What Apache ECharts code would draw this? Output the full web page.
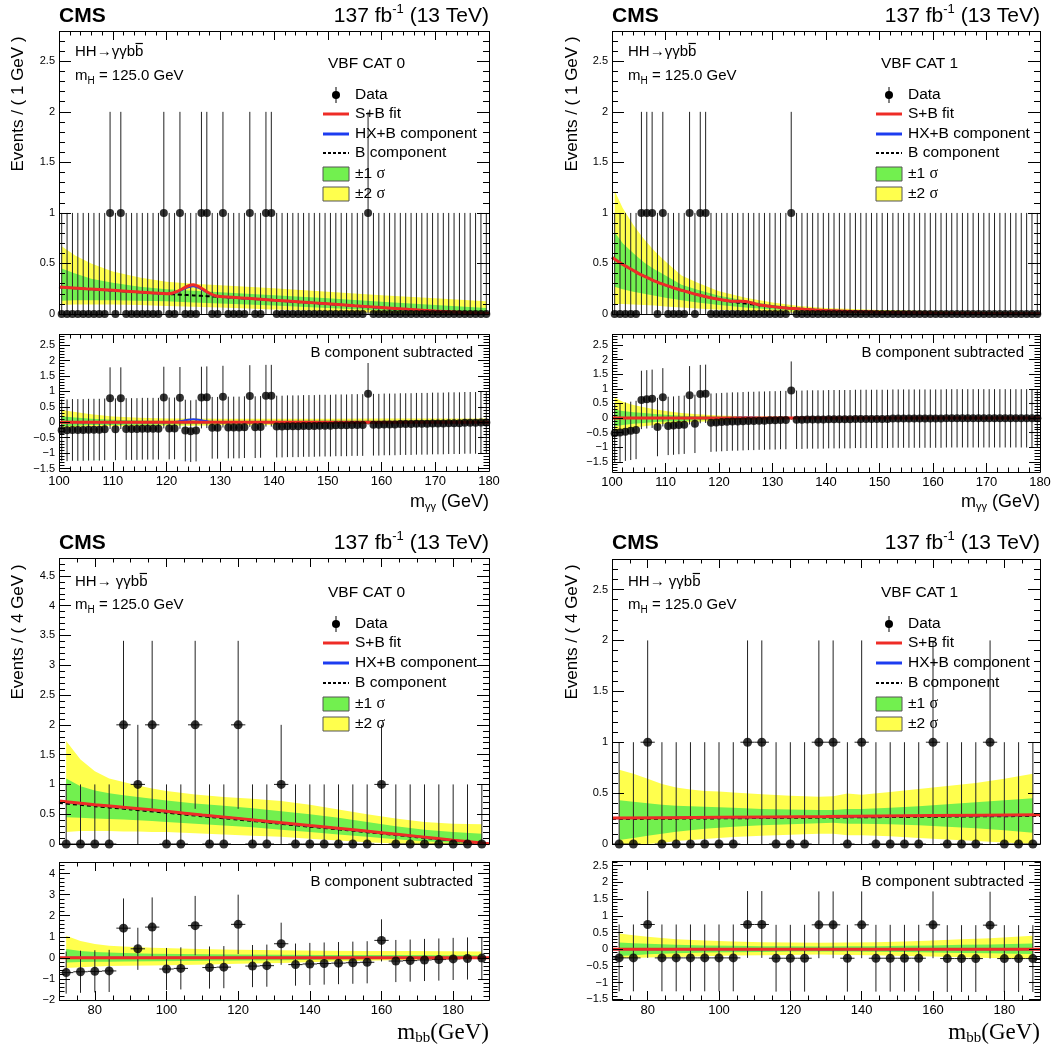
<!DOCTYPE html>
<html>
<head>
<meta charset="utf-8">
<script src="https://cdn.jsdelivr.net/npm/echarts@6.0.0/dist/echarts.min.js"></script>
<style>
html,body{margin:0;padding:0;background:#fff;}
#chart{width:1063px;height:1048px;}
</style>
</head>
<body>
<div id="chart"></div>
<script>
// ====================== DATA ======================
// binning: [low edge, bin width]
const ggBinning = [100, 1];
const bbBinning = [70, 4];
const ggRange = [100, 180];
const bbRange = [70, 190];
// symmetric error drawn for a bin with 0, 1, 2 events
const errorByCount = [1, 1, 1.41];

// tick labels
const ggTickLabels = [100, 110, 120, 130, 140, 150, 160, 170, 180];
const bbTickLabels = [80, 100, 120, 140, 160, 180];
const mainTicks28 = [0, 0.5, 1, 1.5, 2, 2.5];
const mainTicks48 = [0, 0.5, 1, 1.5, 2, 2.5, 3, 3.5, 4, 4.5];
const subTicksHalf = [-1.5, -1, -0.5, 0, 0.5, 1, 1.5, 2, 2.5];
const subTicksUnit = [-2, -1, 0, 1, 2, 3, 4];

// texts
const legendLabels = ['Data', 'S+B fit', 'HX+B component', 'B component', '\u00b11 ', '\u00b12 '];
const categoryLabels = ['VBF CAT 0', 'VBF CAT 1', 'VBF CAT 0', 'VBF CAT 1'];
const yTitles = ['Events / ( 1 GeV )', 'Events / ( 1 GeV )', 'Events / ( 4 GeV )', 'Events / ( 4 GeV )'];

// ---------- A: m_gg, VBF CAT 0 ----------
const ggCat0Counts = [
  0,0,0,0,0,0,0,0,0,1, 0,1,0,0,0,0,0,0,0,1, 0,0,1,0,0,0,1,1,0,0, 1,0,0,0,0,1,0,0,1,1,
  0,0,0,0,0,0,0,0,0,0, 0,0,0,0,0,0,0,1,0,0, 0,0,0,0,0,0,0,0,0,0, 0,0,0,0,0,0,0,0,0,0];
const ggCat0Sub = [
  -0.26,-0.26,-0.25,-0.25,-0.25,-0.24,-0.24,-0.24,-0.23,0.78,
  -0.23,0.78,-0.22,-0.22,-0.22,-0.21,-0.21,-0.21,-0.21,0.80,
  -0.20,-0.20,0.79,-0.27,-0.29,-0.27,0.80,0.81,-0.18,-0.18,
  0.83,-0.17,-0.17,-0.17,-0.16,0.85,-0.16,-0.15,0.86,0.86,
  -0.14,-0.14,-0.13,-0.13,-0.13,-0.12,-0.12,-0.12,-0.11,-0.11,
  -0.11,-0.10,-0.10,-0.10,-0.09,-0.09,-0.09,0.92,-0.08,-0.08,
  -0.07,-0.07,-0.07,-0.06,-0.06,-0.06,-0.05,-0.05,-0.05,-0.04,
  -0.04,-0.04,-0.03,-0.03,-0.03,-0.02,-0.02,-0.02,-0.01,-0.01];
const ggCat0FitX = [100,105,110,115,120,121,122,123,124,125,126,127,128,129,130,135,140,145,150,155,160,165,170,175,180];
const ggCat0B  = [0.265,0.248,0.232,0.215,0.199,0.196,0.193,0.190,0.187,0.184,0.181,0.178,0.175,0.172,0.169,0.153,0.135,0.117,0.099,0.080,0.062,0.044,0.027,0.012,0.003];
const ggCat0SB = [0.267,0.250,0.234,0.217,0.201,0.206,0.223,0.250,0.277,0.289,0.271,0.238,0.205,0.182,0.172,0.155,0.137,0.119,0.101,0.082,0.064,0.046,0.029,0.014,0.005];
const ggCat0HX = [0.266,0.249,0.233,0.216,0.200,0.204,0.218,0.242,0.265,0.274,0.258,0.229,0.200,0.180,0.171,0.154,0.136,0.118,0.100,0.081,0.063,0.045,0.028,0.013,0.004];
const ggCat0BandX = [100.5,103,106,110,115,120,125,130,135,140,150,160,170,179.5];
const ggCat0Up2 = [0.67,0.58,0.50,0.42,0.36,0.32,0.30,0.285,0.27,0.255,0.22,0.185,0.155,0.125];
const ggCat0Up1 = [0.45,0.40,0.35,0.31,0.27,0.245,0.23,0.215,0.20,0.185,0.155,0.12,0.09,0.06];
const ggCat0Dn1 = [0.13,0.135,0.135,0.135,0.13,0.125,0.115,0.105,0.095,0.085,0.06,0.035,0.012,0.0];
const ggCat0Dn2 = [0.09,0.095,0.095,0.095,0.09,0.08,0.072,0.065,0.055,0.045,0.028,0.01,0.0,0.0];
const ggCat0SubUp2 = [0.40,0.33,0.26,0.19,0.145,0.12,0.12,0.115,0.115,0.115,0.115,0.12,0.12,0.12];
const ggCat0SubUp1 = [0.185,0.15,0.11,0.08,0.06,0.05,0.05,0.045,0.045,0.05,0.055,0.058,0.06,0.058];
const ggCat0SubDn1 = [-0.135,-0.11,-0.09,-0.09,-0.08,-0.07,-0.065,-0.06,-0.055,-0.05,-0.04,-0.03,-0.02,-0.01];
const ggCat0SubDn2 = [-0.175,-0.15,-0.13,-0.13,-0.12,-0.11,-0.11,-0.10,-0.095,-0.09,-0.07,-0.05,-0.03,-0.01];
const ggCat0SubFitX = [100,120,121,122,123,124,125,126,127,128,129,130,180];
const ggCat0SubSB = [0,0,0,0,0,0,0,0,0,0,0,0,0];
const ggCat0SubHX = [0,0,0.005,0.02,0.05,0.08,0.095,0.08,0.05,0.02,0.005,0,0];

// ---------- B: m_gg, VBF CAT 1 ----------
const ggCat1Counts = [
  0,0,0,0,0,1,1,1,0,1, 0,0,0,0,1,0,1,1,0,0, 0,0,0,0,0,0,0,0,0,0, 0,0,0,1,0,0,0,0,0,0,
  0,0,0,0,0,0,0,0,0,0, 0,0,0,0,0,0,0,0,0,0, 0,0,0,0,0,0,0,0,0,0, 0,0,0,0,0,0,0,0,0,0];
const ggCat1Sub = [
  -0.52,-0.50,-0.47,-0.44,-0.41,0.62,0.64,0.66,-0.31,0.71,
  -0.27,-0.26,-0.24,-0.23,0.78,-0.20,0.82,0.83,-0.16,-0.15,
  -0.14,-0.13,-0.12,-0.12,-0.11,-0.10,-0.10,-0.09,-0.09,-0.08,
  -0.08,-0.07,-0.07,0.94,-0.06,-0.06,-0.05,-0.05,-0.05,-0.05,
  -0.04,-0.04,-0.04,-0.04,-0.04,-0.03,-0.03,-0.03,-0.03,-0.03,
  -0.03,-0.03,-0.02,-0.02,-0.02,-0.02,-0.02,-0.02,-0.02,-0.02,
  -0.02,-0.02,-0.01,-0.01,-0.01,-0.01,-0.01,-0.01,-0.01,-0.01,
  -0.01,-0.01,-0.01,-0.01,-0.01,-0.01,-0.01,-0.01,-0.01,-0.01];
const ggCat1FitX = [100,101,102,103,104,105,106,107,108,110,112,114,116,118,120,122,123,124,125,126,127,128,130,133,136,140,145,150,160,170,180];
const ggCat1B  = [0.56,0.525,0.49,0.46,0.43,0.40,0.375,0.35,0.325,0.285,0.25,0.22,0.19,0.165,0.145,0.126,0.118,0.11,0.103,0.096,0.09,0.084,0.073,0.058,0.047,0.035,0.025,0.018,0.01,0.005,0.002];
const ggCat1SB = [0.56,0.525,0.49,0.46,0.43,0.40,0.375,0.35,0.325,0.285,0.25,0.22,0.19,0.165,0.145,0.128,0.126,0.126,0.123,0.112,0.098,0.086,0.073,0.058,0.047,0.035,0.025,0.018,0.01,0.005,0.002];
const ggCat1HX = [0.56,0.525,0.49,0.46,0.43,0.40,0.375,0.35,0.325,0.285,0.25,0.22,0.19,0.165,0.145,0.127,0.124,0.122,0.118,0.108,0.096,0.085,0.073,0.058,0.047,0.035,0.025,0.018,0.01,0.005,0.002];
const ggCat1BandX = [100.5,102,104,106,108,110,113,116,120,125,130,135,140,150,165,179.5];
const ggCat1Up2 = [1.22,1.05,0.88,0.74,0.62,0.52,0.38,0.31,0.225,0.16,0.115,0.08,0.06,0.04,0.025,0.02];
const ggCat1Up1 = [0.81,0.70,0.60,0.51,0.44,0.38,0.29,0.24,0.18,0.13,0.09,0.065,0.048,0.03,0.018,0.012];
const ggCat1Dn1 = [0.27,0.245,0.22,0.20,0.18,0.16,0.135,0.115,0.09,0.065,0.045,0.032,0.022,0.012,0.005,0.002];
const ggCat1Dn2 = [0.10,0.10,0.095,0.09,0.085,0.075,0.065,0.055,0.042,0.03,0.02,0.012,0.008,0.004,0.001,0.0];
const ggCat1SubUp2 = [0.70,0.56,0.45,0.37,0.30,0.24,0.17,0.13,0.09,0.06,0.045,0.035,0.025,0.02,0.015,0.01];
const ggCat1SubUp1 = [0.28,0.24,0.20,0.17,0.14,0.11,0.08,0.065,0.05,0.035,0.025,0.02,0.015,0.01,0.008,0.006];
const ggCat1SubDn1 = [-0.28,-0.24,-0.20,-0.17,-0.14,-0.12,-0.10,-0.08,-0.06,-0.04,-0.03,-0.02,-0.015,-0.01,-0.008,-0.006];
const ggCat1SubDn2 = [-0.45,-0.39,-0.33,-0.28,-0.24,-0.20,-0.16,-0.13,-0.10,-0.07,-0.05,-0.035,-0.025,-0.015,-0.01,-0.008];
const ggCat1SubFitX = [100,121,122,123,124,125,126,127,128,129,180];
const ggCat1SubSB = [0,0,0,0,0,0,0,0,0,0,0];
const ggCat1SubHX = [0,0,0.003,0.01,0.018,0.022,0.018,0.01,0.003,0,0];

// ---------- C: m_bb, VBF CAT 0 ----------
const bbCat0Counts = [0,0,0,0,2,1,2,0,0,2, 0,0,2,0,0,1,0,0,0,0, 0,0,1,0,0,0,0,0,0,0];
const bbCat0Sub = [-0.70,-0.66,-0.64,-0.62,1.41,0.43,1.46,-0.53,-0.50,1.53,
  -0.46,-0.44,1.59,-0.39,-0.37,0.67,-0.32,-0.29,-0.27,-0.25,
  -0.23,-0.21,0.83,-0.15,-0.13,-0.10,-0.08,-0.05,-0.03,-0.01];
const bbCat0FitX = [70,80,90,100,110,120,130,140,150,160,170,180,190];
const bbCat0B  = [0.69,0.635,0.58,0.525,0.465,0.41,0.35,0.29,0.235,0.175,0.115,0.055,0.0];
const bbCat0SB = [0.72,0.66,0.605,0.55,0.485,0.43,0.37,0.31,0.252,0.19,0.128,0.065,0.005];
const bbCat0HX = [0.717,0.657,0.602,0.547,0.482,0.427,0.367,0.307,0.249,0.187,0.125,0.063,0.004];
const bbCat0BandX = [72,76,80,84,88,92,96,100,108,116,124,132,140,148,156,164,172,180,188];
const bbCat0Up2 = [1.73,1.42,1.22,1.10,1.04,0.98,0.93,0.89,0.83,0.79,0.76,0.72,0.66,0.58,0.50,0.43,0.37,0.34,0.33];
const bbCat0Up1 = [1.10,0.97,0.90,0.85,0.82,0.79,0.76,0.73,0.68,0.64,0.60,0.55,0.50,0.44,0.37,0.30,0.24,0.20,0.17];
const bbCat0Dn1 = [0.45,0.44,0.43,0.42,0.41,0.40,0.385,0.37,0.34,0.31,0.28,0.24,0.20,0.16,0.12,0.08,0.045,0.02,0.005];
const bbCat0Dn2 = [0.20,0.22,0.22,0.22,0.21,0.21,0.20,0.20,0.18,0.16,0.14,0.12,0.09,0.06,0.03,0.01,0.0,0.0,0.0];
const bbCat0SubBandX = [72,76,80,84,88,96,104,112,120,132,144,156,168,180,188];
const bbCat0SubUp2 = [1.05,0.80,0.66,0.58,0.54,0.48,0.44,0.41,0.38,0.36,0.34,0.33,0.32,0.31,0.30];
const bbCat0SubUp1 = [0.42,0.33,0.28,0.25,0.23,0.20,0.18,0.17,0.16,0.15,0.14,0.13,0.13,0.12,0.12];
const bbCat0SubDn1 = [-0.22,-0.20,-0.19,-0.18,-0.17,-0.16,-0.15,-0.14,-0.13,-0.11,-0.09,-0.07,-0.05,-0.03,-0.02];
const bbCat0SubDn2 = [-0.48,-0.44,-0.41,-0.39,-0.38,-0.36,-0.34,-0.31,-0.28,-0.24,-0.19,-0.14,-0.09,-0.05,-0.03];
const bbCat0SubFitX = [70,190];
const bbCat0SubSB = [0,0];
const bbCat0SubHX = [0,0];

// ---------- D: m_bb, VBF CAT 1 ----------
const bbCat1Counts = [0,0,1,0,0,0,0,0,0,1, 1,0,0,0,1,1,0,1,0,0, 0,0,1,0,0,0,1,0,0,0];
const bbCat1Sub = [-0.26,-0.26,0.74,-0.26,-0.26,-0.26,-0.26,-0.26,-0.26,0.74,
  0.74,-0.27,-0.27,-0.27,0.73,0.73,-0.27,0.73,-0.27,-0.27,
  -0.27,-0.27,0.73,-0.28,-0.28,-0.28,0.72,-0.28,-0.28,-0.28];
const bbCat1FitX = [70,100,130,160,190];
const bbCat1B  = [0.245,0.252,0.26,0.268,0.276];
const bbCat1SB = [0.255,0.262,0.27,0.279,0.288];
const bbCat1HX = [0.253,0.26,0.268,0.277,0.286];
const bbCat1BandX = [72,76,80,84,88,92,96,100,104,112,120,128,132,136,140,148,156,164,172,180,188];
const bbCat1Up2 = [0.73,0.69,0.64,0.59,0.555,0.535,0.52,0.515,0.505,0.49,0.475,0.465,0.47,0.495,0.485,0.51,0.54,0.57,0.60,0.64,0.69];
const bbCat1Up1 = [0.43,0.415,0.40,0.385,0.375,0.37,0.365,0.36,0.355,0.345,0.34,0.335,0.335,0.345,0.345,0.355,0.37,0.39,0.41,0.43,0.45];
const bbCat1Dn1 = [0.04,0.06,0.08,0.10,0.12,0.135,0.15,0.16,0.17,0.185,0.195,0.205,0.21,0.20,0.20,0.195,0.185,0.17,0.155,0.135,0.11];
const bbCat1Dn2 = [0.0,0.0,0.0,0.01,0.03,0.04,0.05,0.06,0.07,0.08,0.09,0.10,0.10,0.085,0.085,0.075,0.06,0.045,0.03,0.015,0.0];
const bbCat1SubBandX = [72,76,80,88,96,104,112,120,128,136,144,152,160,168,176,188];
const bbCat1SubUp2 = [0.47,0.42,0.37,0.30,0.26,0.23,0.21,0.20,0.19,0.20,0.21,0.23,0.26,0.30,0.33,0.40];
const bbCat1SubUp1 = [0.20,0.18,0.16,0.13,0.11,0.10,0.09,0.085,0.08,0.085,0.09,0.10,0.11,0.13,0.14,0.17];
const bbCat1SubDn1 = [-0.20,-0.18,-0.15,-0.12,-0.10,-0.09,-0.08,-0.07,-0.065,-0.07,-0.075,-0.085,-0.10,-0.11,-0.12,-0.14];
const bbCat1SubDn2 = [-0.26,-0.26,-0.25,-0.23,-0.21,-0.19,-0.18,-0.17,-0.16,-0.17,-0.18,-0.20,-0.22,-0.24,-0.26,-0.28];
const bbCat1SubFitX = [70,190];
const bbCat1SubSB = [0,0];
const bbCat1SubHX = [0,0];

// ====================== DRAWING ======================
const SANS = '"Liberation Sans", Arial, Helvetica, sans-serif';
const SERIF = '"Liberation Serif", "Times New Roman", serif';
const C_YEL = '#ffff4d', C_GRN = '#72f04f', C_RED = '#ee2c26', C_BLU = '#1d3cf0';

const mctx = document.createElement('canvas').getContext('2d');
function measure(t, size, fam, wt) { mctx.font = (wt || 'normal') + ' ' + size + 'px ' + fam; return mctx.measureText(t).width; }

const grids = [], xAxes = [], yAxes = [], series = [], gfx = [];

function fmt(v) { const a = Math.abs(v); const s = String(+a.toFixed(2)); return (v < -1e-9 ? '\u2212' : '') + s; }
function stepList(lo, hi, step) { const out = []; for (let k = Math.ceil(lo / step - 1e-6); k * step <= hi + 1e-6; k++) out.push(+(k * step).toFixed(6)); return out; }

function mkAxis(list, gi, range, pos, ticks, len, label) {
  list.push({
    type: 'value', gridIndex: gi, min: range[0], max: range[1], position: pos, offset: 0,
    axisLine: { show: false, onZero: false }, splitLine: { show: false }, splitArea: { show: false },
    minorTick: { show: false }, minorSplitLine: { show: false },
    axisTick: ticks ? { show: true, inside: true, length: len, customValues: ticks, lineStyle: { color: '#000', width: 1 } } : { show: false },
    axisLabel: label ? { show: true, customValues: label.values, formatter: fmt, color: '#000', fontFamily: SANS, fontSize: label.size, margin: label.margin } : { show: false },
    axisPointer: { show: false }, silent: true, z: 20
  });
  return list.length - 1;
}

function addFrame(rect, xr, yr, o) {
  const gi = grids.length;
  grids.push({ left: rect[0], top: rect[1], width: rect[2], height: rect[3], show: false, containLabel: false, outerBoundsMode: 'none' });
  const xi = mkAxis(xAxes, gi, xr, 'bottom', o.bottomTicks ? o.xMajor : null, o.xLen, o.xLabel ? { values: o.xMajor, size: 13, margin: 4 } : null);
  mkAxis(xAxes, gi, xr, 'top', o.xMajor, o.xLen, null);
  mkAxis(xAxes, gi, xr, 'top', stepList(xr[0], xr[1], o.xMinor), o.xLen / 2, null);
  if (o.bottomTicks) mkAxis(xAxes, gi, xr, 'bottom', stepList(xr[0], xr[1], o.xMinor), o.xLen / 2, null);
  const yi = mkAxis(yAxes, gi, yr, 'left', o.yMajor, o.yLen, { values: o.yMajor, size: 11, margin: 4 });
  mkAxis(yAxes, gi, yr, 'right', o.yMajor, o.yLen, null);
  const ym = stepList(yr[0], yr[1], o.yMinor);
  mkAxis(yAxes, gi, yr, 'left', ym, o.yLen / 2, null);
  mkAxis(yAxes, gi, yr, 'right', ym, o.yLen / 2, null);
  gfx.push({ type: 'rect', shape: { x: rect[0] + 0.5, y: rect[1] + 0.5, width: rect[2], height: rect[3] }, style: { fill: 'none', stroke: '#000', lineWidth: 1 }, z: 60, silent: true });
  return { xi: xi, yi: yi };
}

function bandSeries(ax, xs, lo, hi, color, z) {
  series.push({
    type: 'custom', xAxisIndex: ax.xi, yAxisIndex: ax.yi, z: z, silent: true, animation: false,
    data: [[xs[0], lo[0]]], encode: { x: 0, y: 1 },
    renderItem: function (params, api) {
      if (params.dataIndex !== 0) return null;
      const pts = [];
      for (let i = 0; i < xs.length; i++) pts.push(api.coord([xs[i], hi[i]]));
      for (let i = xs.length - 1; i >= 0; i--) pts.push(api.coord([xs[i], lo[i]]));
      return { type: 'polygon', shape: { points: pts }, style: { fill: color } };
    }
  });
}

function errSeries(ax, rows, yr, z) {
  series.push({
    type: 'custom', xAxisIndex: ax.xi, yAxisIndex: ax.yi, z: z, silent: true, animation: false,
    data: rows, encode: { x: 0, y: 1 },
    renderItem: function (params, api) {
      const x = api.value(0), y = api.value(1), e = api.value(2), hw = api.value(3);
      const lo = Math.max(y - e, yr[0]), hi = Math.min(y + e, yr[1]);
      const a = api.coord([x, hi]), b = api.coord([x, lo]);
      const ch = [{ type: 'line', shape: { x1: a[0], y1: a[1], x2: b[0], y2: b[1] }, style: { stroke: '#222', lineWidth: 1 } }];
      if (hw > 0) {
        const l = api.coord([x - hw, y]), r = api.coord([x + hw, y]);
        ch.push({ type: 'line', shape: { x1: l[0], y1: l[1], x2: r[0], y2: r[1] }, style: { stroke: '#222', lineWidth: 1 } });
      }
      return { type: 'group', children: ch };
    }
  });
}

function lineSeries(ax, xs, ys, color, width, type, z) {
  series.push({
    type: 'line', xAxisIndex: ax.xi, yAxisIndex: ax.yi, z: z, silent: true, animation: false,
    data: xs.map(function (x, i) { return [x, ys[i]]; }), showSymbol: false, symbol: 'none', smooth: 0.25, clip: true,
    lineStyle: { color: color, width: width, type: type }
  });
}

function dotSeries(ax, rows, size, z) {
  series.push({
    type: 'scatter', xAxisIndex: ax.xi, yAxisIndex: ax.yi, z: z, silent: true, animation: false,
    data: rows, symbol: 'circle', symbolSize: size, clip: false, itemStyle: { color: '#000' }
  });
}

function textRun(x, y, parts, align) {
  let total = 0;
  const ws = parts.map(function (p) { const w = measure(p.t, p.size, p.family || SANS, p.weight); total += w; return w; });
  let cx = align === 'right' ? x - total : (align === 'center' ? x - total / 2 : x);
  const pos = [];
  parts.forEach(function (p, i) {
    gfx.push({ type: 'text', x: cx, y: y + (p.dy || 0), z: 100, silent: true,
      style: { text: p.t, fontSize: p.size, fontFamily: p.family || SANS, fontWeight: p.weight || 'normal', fill: '#000',
        align: 'left', verticalAlign: 'middle', textAlign: 'left', textVerticalAlign: 'middle' } });
    pos.push([cx, ws[i]]);
    cx += ws[i];
  });
  return pos;
}

function buildPanel(P) {
  const m = addFrame(P.mainRect, P.xr, P.yMain, { xMajor: P.xMajor, xMinor: P.xMinor, xLen: 9, bottomTicks: false, xLabel: false, yMajor: P.yMainTicks, yMinor: 0.1, yLen: 12 });
  const s = addFrame(P.subRect, P.xr, P.ySub, { xMajor: P.xMajor, xMinor: P.xMinor, xLen: 9, bottomTicks: true, xLabel: true, yMajor: P.ySubTicks, yMinor: P.ySubMinor, yLen: 11 });
  const xc = P.counts.map(function (_, i) { return P.bin[0] + P.bin[1] * (i + 0.5); });
  const hw = P.showXerr ? P.bin[1] / 2 : 0;
  // main pad
  bandSeries(m, P.bandX, P.dn2, P.up2, C_YEL, 1);
  bandSeries(m, P.bandX, P.dn1, P.up1, C_GRN, 2);
  errSeries(m, xc.map(function (x, i) { return [x, P.counts[i], errorByCount[P.counts[i]], hw]; }), P.yMain, 3);
  lineSeries(m, P.fitX, P.B, '#000', 2, [4, 3], 4);
  lineSeries(m, P.fitX, P.HX, C_BLU, 2, 'solid', 5);
  lineSeries(m, P.fitX, P.SB, C_RED, 3, 'solid', 6);
  dotSeries(m, xc.map(function (x, i) { return [x, P.counts[i]]; }), P.dot, 8);
  // subtracted pad
  bandSeries(s, P.subBandX, P.sdn2, P.sup2, C_YEL, 1);
  bandSeries(s, P.subBandX, P.sdn1, P.sup1, C_GRN, 2);
  errSeries(s, xc.map(function (x, i) { return [x, P.sub[i], errorByCount[P.counts[i]], hw]; }), P.ySub, 3);
  lineSeries(s, P.subFitX, P.subHX, C_BLU, 2, 'solid', 5);
  lineSeries(s, P.subFitX, P.subSB, C_RED, 3, 'solid', 6);
  dotSeries(s, xc.map(function (x, i) { return [x, P.sub[i]]; }), P.dot, 8);

  // texts
  const L = P.mainRect[0], R = P.mainRect[0] + P.mainRect[2];
  textRun(L, P.cmsY, [{ t: 'CMS', size: 21, weight: 'bold' }], 'left');
  textRun(R, P.cmsY, [{ t: '137 fb', size: 21 }, { t: '-1', size: 13, dy: -7 }, { t: ' (13 TeV)', size: 21 }], 'right');
  const hp = textRun(L + 16, P.hhY, [{ t: P.hhText, size: 15 }, { t: 'b', size: 15 }], 'left');
  gfx.push({ type: 'line', shape: { x1: hp[1][0] + 0.5, y1: P.hhY - 8.5, x2: hp[1][0] + hp[1][1] - 0.5, y2: P.hhY - 8.5 }, style: { stroke: '#000', lineWidth: 1.2 }, z: 100, silent: true });
  textRun(L + 16, P.mhY, [{ t: 'm', size: 15 }, { t: 'H', size: 10, dy: 5 }, { t: ' = 125.0 GeV', size: 15 }], 'left');
  textRun(L + 269, P.catY, [{ t: P.cat, size: 15.5 }], 'left');
  // legend
  const sx = L + 277, tx = L + 296, rows = P.legRows;
  gfx.push({ type: 'line', shape: { x1: sx, y1: rows[0] - 8, x2: sx, y2: rows[0] + 8 }, style: { stroke: '#000', lineWidth: 1 }, z: 100, silent: true });
  gfx.push({ type: 'circle', shape: { cx: sx, cy: rows[0], r: 4 }, style: { fill: '#000' }, z: 101, silent: true });
  gfx.push({ type: 'line', shape: { x1: sx - 13, y1: rows[1], x2: sx + 13, y2: rows[1] }, style: { stroke: C_RED, lineWidth: 3 }, z: 100, silent: true });
  gfx.push({ type: 'line', shape: { x1: sx - 13, y1: rows[2], x2: sx + 13, y2: rows[2] }, style: { stroke: C_BLU, lineWidth: 3 }, z: 100, silent: true });
  gfx.push({ type: 'line', shape: { x1: sx - 13, y1: rows[3], x2: sx + 13, y2: rows[3] }, style: { stroke: '#000', lineWidth: 2, lineDash: [3, 2] }, z: 100, silent: true });
  gfx.push({ type: 'rect', shape: { x: sx - 13, y: rows[4] - 7, width: 26, height: 14 }, style: { fill: C_GRN, stroke: '#555', lineWidth: 1 }, z: 100, silent: true });
  gfx.push({ type: 'rect', shape: { x: sx - 13, y: rows[5] - 7, width: 26, height: 14 }, style: { fill: C_YEL, stroke: '#555', lineWidth: 1 }, z: 100, silent: true });
  for (let k = 0; k < 4; k++) textRun(tx, rows[k], [{ t: legendLabels[k], size: 15.5 }], 'left');
  textRun(tx, rows[4], [{ t: legendLabels[4], size: 15.5 }, { t: '\u03c3', size: 16, family: SERIF }], 'left');
  textRun(tx, rows[5], [{ t: legendLabels[5], size: 15.5 }, { t: '\u03c3', size: 16, family: SERIF }], 'left');
  // y title
  gfx.push({ type: 'text', x: P.yTitleX, y: P.yTitleY, rotation: Math.PI / 2, z: 100, silent: true,
    style: { text: P.yTitle, fontSize: 17, fontFamily: SANS, fill: '#000', align: 'center', verticalAlign: 'middle', textAlign: 'center', textVerticalAlign: 'middle' } });
  // subtracted label
  textRun(R - 16, P.subTextY, [{ t: 'B component subtracted', size: 15 }], 'right');
  // x title
  if (P.xKind === 'gg') {
    textRun(R, P.xTitleY, [{ t: 'm', size: 18 }, { t: '\u03b3\u03b3', size: 11, dy: 5 }, { t: ' (GeV)', size: 18 }], 'right');
  } else {
    textRun(R, P.xTitleY, [{ t: 'm', size: 23, family: SERIF }, { t: 'bb', size: 15, family: SERIF, dy: 5 }, { t: '(GeV)', size: 23, family: SERIF }], 'right');
  }
}

buildPanel({
  mainRect: [59, 31, 430, 283], subRect: [59, 334, 430, 137], xr: ggRange, yMain: [0, 2.8], ySub: [-1.58, 2.86],
  xMajor: ggTickLabels, xMinor: 2, yMainTicks: mainTicks28, ySubTicks: subTicksHalf, ySubMinor: 0.1,
  bin: ggBinning, showXerr: false, dot: 8, counts: ggCat0Counts, sub: ggCat0Sub,
  fitX: ggCat0FitX, B: ggCat0B, SB: ggCat0SB, HX: ggCat0HX,
  bandX: ggCat0BandX, up2: ggCat0Up2, up1: ggCat0Up1, dn1: ggCat0Dn1, dn2: ggCat0Dn2,
  subBandX: ggCat0BandX, sup2: ggCat0SubUp2, sup1: ggCat0SubUp1, sdn1: ggCat0SubDn1, sdn2: ggCat0SubDn2,
  subFitX: ggCat0SubFitX, subSB: ggCat0SubSB, subHX: ggCat0SubHX,
  cmsY: 16, hhY: 52, hhText: 'HH\u2192\u03b3\u03b3b', mhY: 76, cat: categoryLabels[0], catY: 64,
  legRows: [95, 114, 134, 153, 174, 194], yTitle: yTitles[0], yTitleX: 18, yTitleY: 104,
  subTextY: 353, xKind: 'gg', xTitleY: 502
});
buildPanel({
  mainRect: [612, 31, 428, 283], subRect: [612, 334, 428, 138], xr: ggRange, yMain: [0, 2.8], ySub: [-1.85, 2.88],
  xMajor: ggTickLabels, xMinor: 2, yMainTicks: mainTicks28, ySubTicks: subTicksHalf, ySubMinor: 0.1,
  bin: ggBinning, showXerr: false, dot: 8, counts: ggCat1Counts, sub: ggCat1Sub,
  fitX: ggCat1FitX, B: ggCat1B, SB: ggCat1SB, HX: ggCat1HX,
  bandX: ggCat1BandX, up2: ggCat1Up2, up1: ggCat1Up1, dn1: ggCat1Dn1, dn2: ggCat1Dn2,
  subBandX: ggCat1BandX, sup2: ggCat1SubUp2, sup1: ggCat1SubUp1, sdn1: ggCat1SubDn1, sdn2: ggCat1SubDn2,
  subFitX: ggCat1SubFitX, subSB: ggCat1SubSB, subHX: ggCat1SubHX,
  cmsY: 16, hhY: 52, hhText: 'HH\u2192\u03b3\u03b3b', mhY: 76, cat: categoryLabels[1], catY: 64,
  legRows: [95, 114, 134, 153, 174, 194], yTitle: yTitles[1], yTitleX: 572, yTitleY: 104,
  subTextY: 353, xKind: 'gg', xTitleY: 502
});
buildPanel({
  mainRect: [59, 558, 430, 286], subRect: [59, 862, 430, 138], xr: bbRange, yMain: [0, 4.8], ySub: [-2, 4.55],
  xMajor: bbTickLabels, xMinor: 5, yMainTicks: mainTicks48, ySubTicks: subTicksUnit, ySubMinor: 0.2,
  bin: bbBinning, showXerr: true, dot: 9, counts: bbCat0Counts, sub: bbCat0Sub,
  fitX: bbCat0FitX, B: bbCat0B, SB: bbCat0SB, HX: bbCat0HX,
  bandX: bbCat0BandX, up2: bbCat0Up2, up1: bbCat0Up1, dn1: bbCat0Dn1, dn2: bbCat0Dn2,
  subBandX: bbCat0SubBandX, sup2: bbCat0SubUp2, sup1: bbCat0SubUp1, sdn1: bbCat0SubDn1, sdn2: bbCat0SubDn2,
  subFitX: bbCat0SubFitX, subSB: bbCat0SubSB, subHX: bbCat0SubHX,
  cmsY: 543, hhY: 582, hhText: 'HH\u2192 \u03b3\u03b3b', mhY: 605, cat: categoryLabels[2], catY: 593,
  legRows: [624, 643, 663, 683, 704, 724], yTitle: yTitles[2], yTitleX: 18, yTitleY: 632,
  subTextY: 882, xKind: 'bb', xTitleY: 1033
});
buildPanel({
  mainRect: [612, 559, 428, 285], subRect: [612, 861, 428, 139], xr: bbRange, yMain: [0, 2.8], ySub: [-1.52, 2.64],
  xMajor: bbTickLabels, xMinor: 5, yMainTicks: mainTicks28, ySubTicks: subTicksHalf, ySubMinor: 0.1,
  bin: bbBinning, showXerr: true, dot: 9, counts: bbCat1Counts, sub: bbCat1Sub,
  fitX: bbCat1FitX, B: bbCat1B, SB: bbCat1SB, HX: bbCat1HX,
  bandX: bbCat1BandX, up2: bbCat1Up2, up1: bbCat1Up1, dn1: bbCat1Dn1, dn2: bbCat1Dn2,
  subBandX: bbCat1SubBandX, sup2: bbCat1SubUp2, sup1: bbCat1SubUp1, sdn1: bbCat1SubDn1, sdn2: bbCat1SubDn2,
  subFitX: bbCat1SubFitX, subSB: bbCat1SubSB, subHX: bbCat1SubHX,
  cmsY: 543, hhY: 582, hhText: 'HH\u2192 \u03b3\u03b3b', mhY: 605, cat: categoryLabels[3], catY: 593,
  legRows: [624, 643, 663, 683, 704, 724], yTitle: yTitles[3], yTitleX: 572, yTitleY: 632,
  subTextY: 882, xKind: 'bb', xTitleY: 1033
});

const chart = echarts.init(document.getElementById('chart'), null, { renderer: 'canvas' });
chart.setOption({
  animation: false,
  backgroundColor: '#fff',
  textStyle: { fontFamily: SANS },
  grid: grids,
  xAxis: xAxes,
  yAxis: yAxes,
  series: series,
  graphic: { elements: gfx }
});
</script>
</body>
</html>
